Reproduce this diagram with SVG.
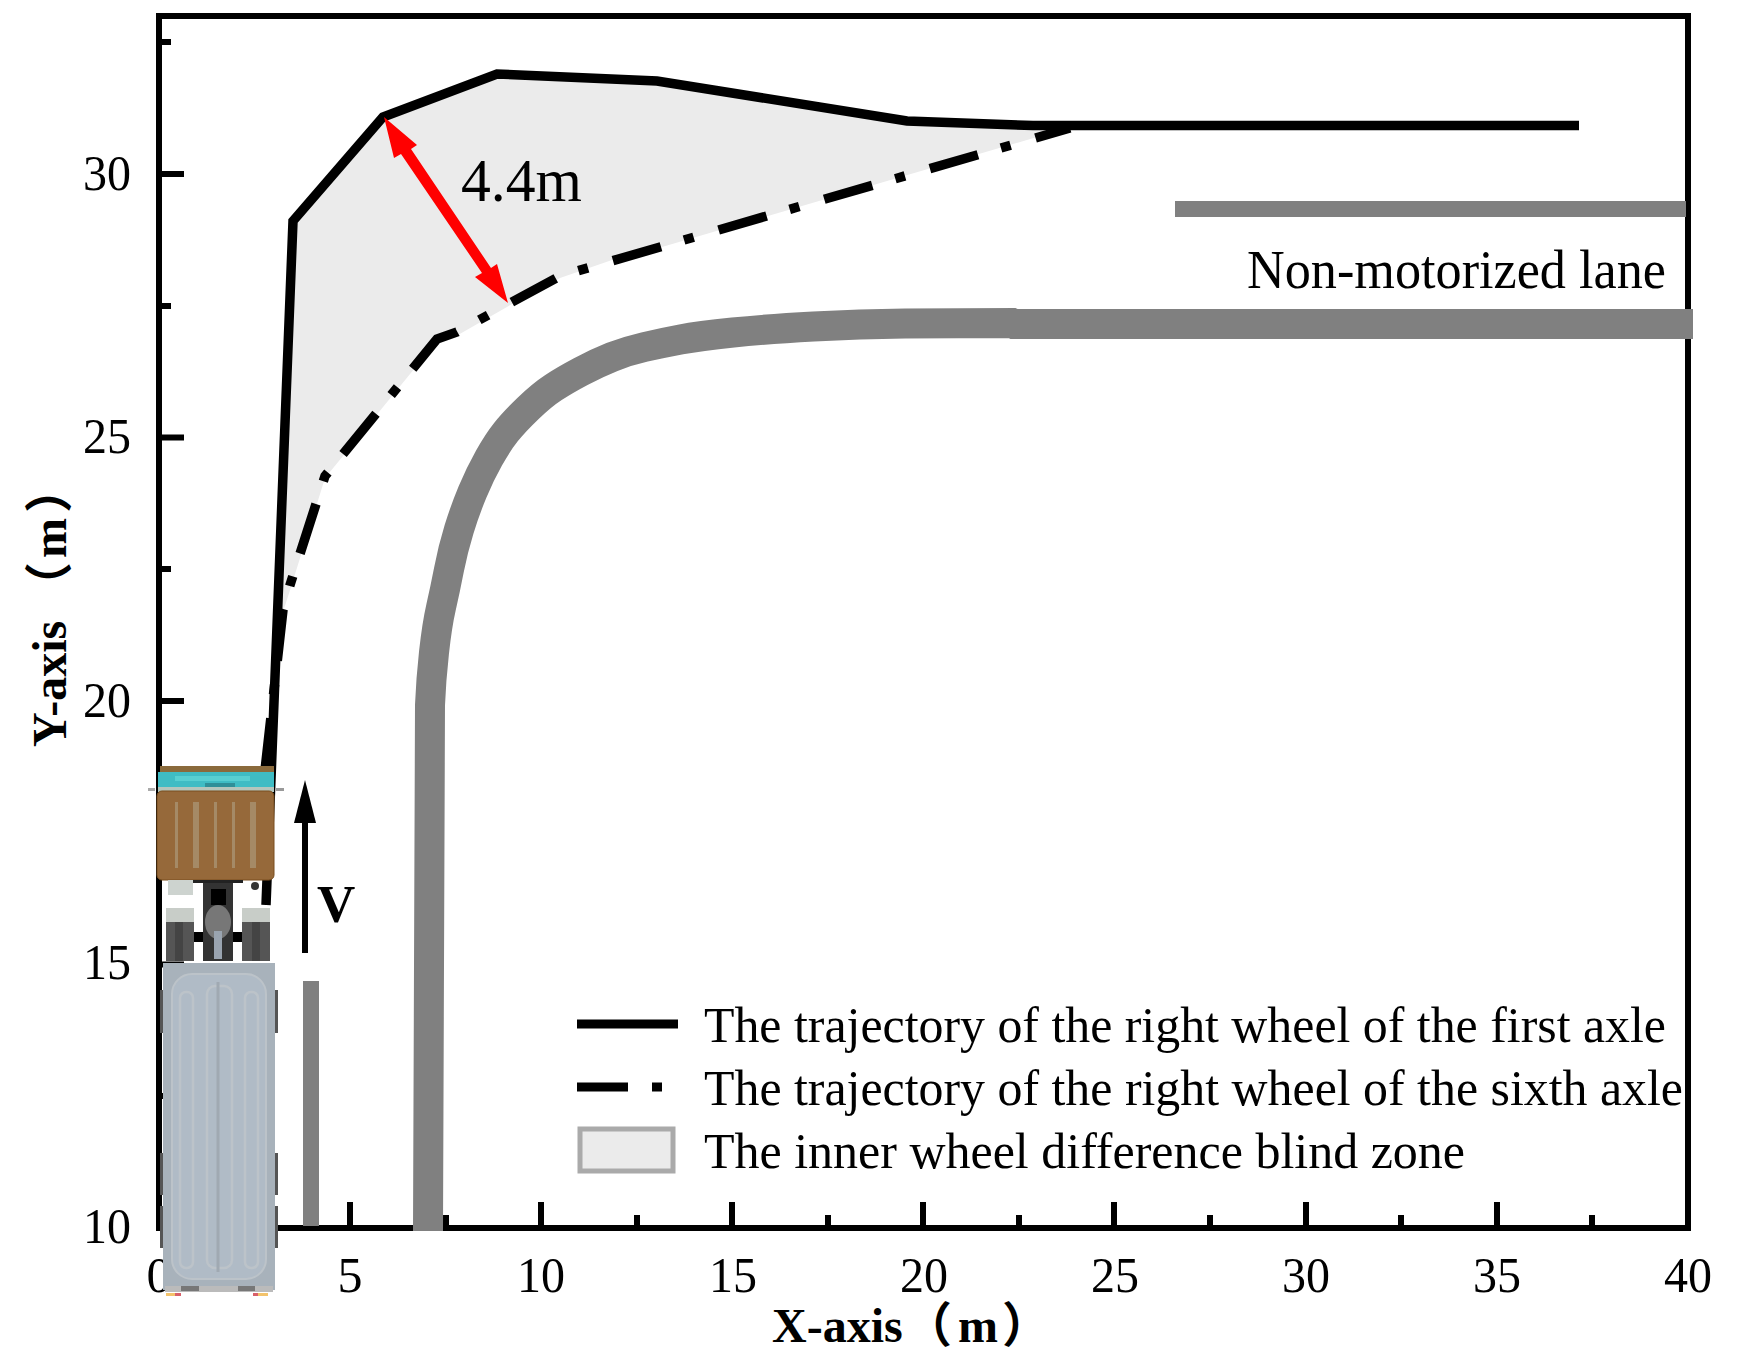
<svg xmlns="http://www.w3.org/2000/svg" width="1738" height="1361" viewBox="0 0 1738 1361">
<style>
text{font-family:"Liberation Serif","Noto Sans CJK SC",serif;fill:#000}
.tick{font-size:50px}
.xt{text-anchor:middle}
.yt{text-anchor:end}
.lg{font-size:50px}
.ax{font-size:48px;font-weight:bold}
.road{fill:none;stroke:#808080;stroke-width:30}
.tk{fill:none;stroke:#000;stroke-width:6}
.sol{fill:none;stroke:#000;stroke-width:9.500;stroke-linejoin:miter}
.dsh{fill:none;stroke:#000;stroke-width:9.500;stroke-dasharray:52 24 10 24 52 24 10 24 52 24 10 24 52 24 10 24 60 25 10 27 50 24 10 26 50 24 10 26 50 24 10 26 50 24 10 26 50 24 10 26 60 40}
.st{fill:#a58a66}
.cl{fill:none;stroke:#bcc3c9;stroke-width:2.500}
.wh{fill:#555}
</style>
<rect width="1738" height="1361" fill="#fff"/>
<g id="blind-zone"><path fill="#ebebeb" d="M268 800L293 221L383 117L497 74L657 81L907 121L1033 126L1070 128L1037 137L662 247L612 260L560 278L512 304L458 335L437 341L325 478L291 587L283 612Z"/></g>
<g id="axes">
<rect x="159" y="16" width="1529" height="1212" class="tk"/>
<path class="tk" d="M350 1228V1202M541 1228V1202M732 1228V1202M923 1228V1202M1114 1228V1202M1306 1228V1202M1497 1228V1202M255 1228V1215M446 1228V1215M637 1228V1215M828 1228V1215M1019 1228V1215M1210 1228V1215M1401 1228V1215M1592 1228V1215"/>
<path class="tk" d="M159 174H184M159 437.500H184M159 701H184M159 964.500H184M159 42H171M159 306H171M159 569H171M159 833H171M159 1096H171"/>
<g class="tick">
<text class="xt" x="159" y="1292">0</text><text class="xt" x="350" y="1292">5</text><text class="xt" x="541" y="1292" textLength="48" lengthAdjust="spacingAndGlyphs">10</text><text class="xt" x="733" y="1292" textLength="48" lengthAdjust="spacingAndGlyphs">15</text><text class="xt" x="924" y="1292" textLength="48" lengthAdjust="spacingAndGlyphs">20</text><text class="xt" x="1115" y="1292" textLength="48" lengthAdjust="spacingAndGlyphs">25</text><text class="xt" x="1306" y="1292" textLength="48" lengthAdjust="spacingAndGlyphs">30</text><text class="xt" x="1497" y="1292" textLength="48" lengthAdjust="spacingAndGlyphs">35</text><text class="xt" x="1688" y="1292" textLength="48" lengthAdjust="spacingAndGlyphs">40</text>
<text class="yt" x="131" y="190" textLength="48" lengthAdjust="spacingAndGlyphs">30</text><text class="yt" x="131" y="453" textLength="48" lengthAdjust="spacingAndGlyphs">25</text><text class="yt" x="131" y="717" textLength="48" lengthAdjust="spacingAndGlyphs">20</text><text class="yt" x="131" y="979" textLength="48" lengthAdjust="spacingAndGlyphs">15</text><text class="yt" x="131" y="1243" textLength="48" lengthAdjust="spacingAndGlyphs">10</text>
</g>
<text class="ax" x="772" y="1342">X-axis<tspan x="904">（</tspan><tspan x="958">m</tspan><tspan x="1002">）</tspan></text>
<text class="ax" transform="translate(66 747) rotate(-90)">Y-axis<tspan x="137">（</tspan><tspan x="189">m</tspan><tspan x="234">）</tspan></text>
</g>
<g id="roads">
<path class="road" d="M428 1231L430 705Q431 680 434 652.500Q437 625 441 607.500Q445 590 449 569.500Q453 549 459 529.500Q465 510 472.500 492Q480 474 489 458Q498 442 506 432Q514 422 528 408.500Q542 395 553.500 387.500Q565 380 581 371.500Q597 363 612 357Q627 351 644.500 347Q662 343 680.500 339.500Q699 336 733 332.500Q767 329 813.500 326.500Q860 324 905 323.500L1012 323L1014 324H1693"/>
<rect x="1175" y="201" width="511" height="16" fill="#808080"/>
<rect x="303" y="981" width="16" height="245" fill="#808080"/>
</g>
<g id="connectors">
<path class="dsh" d="M265 770L283 610L290 585L325 476L437 339L457 332L560 276L1070 128"/>
<path class="sol" d="M266 905L293 221L383 117L497 74L657 81L907 121L1033 125.500H1579"/>
<g id="dimension-arrow" fill="#f00">
<path d="M384 117L417 145L411 149L491 268L497 264L508 303L475 277L482 273L401 154L394 158Z"/>
</g>
<g id="v-arrow"><path d="M305 953V820" stroke="#000" stroke-width="6"/><path d="M305 780L316 823H294Z"/></g>
</g>
<g id="labels">
<text x="461" y="201" font-size="62" textLength="121" lengthAdjust="spacingAndGlyphs">4.4m</text>
<text x="317" y="922" font-size="53" font-weight="bold">V</text>
<text x="1247" y="288" font-size="54" textLength="419" lengthAdjust="spacingAndGlyphs">Non-motorized lane</text>
</g>
<g id="legend">
<rect x="577" y="1019.500" width="101" height="9"/>
<rect x="577" y="1082.500" width="51" height="9"/>
<rect x="652" y="1082.500" width="10" height="9"/>
<rect x="580" y="1129" width="93" height="42" fill="#ebebeb" stroke="#aaa" stroke-width="5"/>
<text class="lg" x="704" y="1042" textLength="962" lengthAdjust="spacingAndGlyphs">The trajectory of the right wheel of the first axle</text>
<text class="lg" x="704" y="1105" textLength="979" lengthAdjust="spacingAndGlyphs">The trajectory of the right wheel of the sixth axle</text>
<text class="lg" x="704" y="1168" textLength="761" lengthAdjust="spacingAndGlyphs">The inner wheel difference blind zone</text>
</g>
<g id="truck">
<rect x="148" y="788" width="7" height="3" fill="#aaa"/><rect x="276" y="788" width="8" height="3" fill="#999"/>
<rect x="160" y="766" width="114" height="8" fill="#8a6a3c"/>
<rect x="158" y="772" width="116" height="16" fill="#3fbcc4"/>
<rect x="175" y="776" width="75" height="5" fill="#58cfd2"/>
<rect x="205" y="783" width="30" height="4" fill="#2f8f98"/>
<rect x="158" y="787" width="116" height="5" fill="#b4c6bd"/>
<rect x="157" y="791" width="117" height="89" rx="5" fill="#96693a" stroke="#7a4f1f" stroke-width="1"/>
<rect x="175" y="802" width="3" height="66" class="st"/><rect x="193" y="802" width="6" height="66" class="st"/><rect x="214" y="802" width="3" height="66" class="st"/><rect x="232" y="802" width="3" height="66" class="st"/><rect x="250" y="802" width="6" height="66" class="st"/>
<rect x="168" y="880" width="25" height="15" fill="#cdd3cf"/>
<rect x="194" y="932" width="50" height="10" fill="#000"/>
<rect x="203" y="880" width="30" height="81" fill="#333"/>
<rect x="193" y="880" width="50" height="3" fill="#222"/>
<rect x="211" y="889" width="15" height="16" fill="#000"/>
<ellipse cx="218" cy="922" rx="13" ry="17" fill="#777"/>
<rect x="214" y="931" width="8" height="28" fill="#9aa4b0"/>
<circle cx="255" cy="886" r="4" fill="#333"/>
<rect x="166" y="908" width="28" height="53" class="wh"/><rect x="242" y="908" width="28" height="53" class="wh"/>
<rect x="166" y="908" width="28" height="14" fill="#c8cdc8"/><rect x="242" y="908" width="28" height="14" fill="#c8cdc8"/>
<rect x="175" y="922" width="8" height="39" fill="#444"/><rect x="252" y="922" width="8" height="39" fill="#444"/>
<path class="wh" d="M160 990h4v43h-4zM160 1153h4v42h-4zM160 1206h4v42h-4zM274 990h4v43h-4zM274 1153h4v42h-4zM274 1206h4v42h-4z"/>
<rect x="163" y="963" width="112" height="327" fill="#a8b2bb"/>
<rect x="172" y="974" width="94" height="305" rx="20" fill="#b0bbc6" stroke="#bcc3c9" stroke-width="2"/>
<rect class="cl" x="180" y="992" width="13" height="276" rx="6"/><rect class="cl" x="207" y="986" width="25" height="282" rx="8"/><rect class="cl" x="245" y="992" width="13" height="276" rx="6"/>
<path d="M218 982V1272" stroke="#a0a9b2" stroke-width="3" fill="none"/>
<rect x="165" y="1286" width="108" height="6" fill="#bbb"/><rect x="181" y="1286" width="18" height="5" fill="#777"/><rect x="238" y="1286" width="17" height="5" fill="#777"/>
<rect x="166" y="1293" width="10" height="3" fill="#f3c36c"/><rect x="175" y="1293" width="6" height="3" fill="#d8606a"/><rect x="253" y="1293" width="6" height="3" fill="#d8606a"/><rect x="258" y="1293" width="10" height="3" fill="#f3c36c"/>
</g>
</svg>
